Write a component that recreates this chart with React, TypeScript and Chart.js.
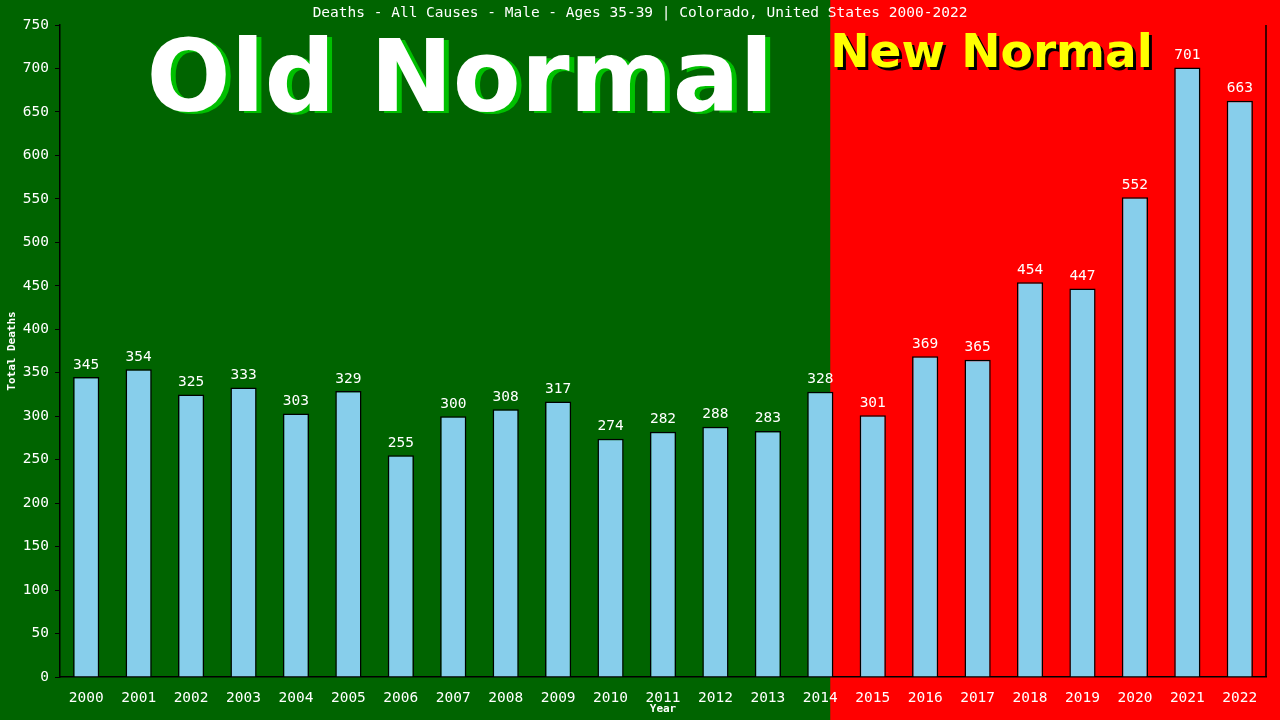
import { useEffect, useRef } from "react"
import { Chart, registerables } from "chart.js"

Chart.register(...registerables)

const years = [
  "2000", "2001", "2002", "2003", "2004", "2005", "2006", "2007", "2008", "2009", "2010", "2011",
  "2012", "2013", "2014", "2015", "2016", "2017", "2018", "2019", "2020", "2021", "2022",
]
const deaths = [345, 354, 325, 333, 303, 329, 255, 300, 308, 317, 274, 282, 288, 283, 328, 301, 369, 365, 454, 447, 552, 701, 663]
const titleText = "Deaths - All Causes - Male - Ages 35-39 | Colorado, United States 2000-2022"
const splitIndex = 14 // last "old normal" year

const MONO = "'DejaVu Sans Mono', monospace"
const SANS = "'DejaVu Sans', sans-serif"

// fondo verde/rojo, textos grandes y etiquetas de valores
const decorPlugin = {
  id: "decor",
  beforeDraw(chart: any) {
    const { ctx, width, height, scales } = chart
    const x = scales.x
    const step = x.getPixelForValue(splitIndex + 1) - x.getPixelForValue(splitIndex)
    const split = x.getPixelForValue(splitIndex) + step * 0.19
    ctx.save()
    ctx.fillStyle = "#006400"
    ctx.fillRect(0, 0, width, height)
    ctx.fillStyle = "#ff0000"
    ctx.fillRect(split, 0, width - split, height)

    // Old Normal
    ctx.font = `bold 99px ${SANS}`
    ctx.textAlign = "center"
    ctx.textBaseline = "alphabetic"
    ctx.fillStyle = "#00c000"
    ctx.fillText("Old Normal", 465, 113)
    ctx.fillStyle = "#ffffff"
    ctx.fillText("Old Normal", 460, 111)

    // New Normal
    ctx.font = `bold 47px ${SANS}`
    ctx.textAlign = "left"
    ctx.fillStyle = "#000000"
    ctx.fillText("New Normal", split + 3, 70)
    ctx.fillStyle = "#ffff00"
    ctx.fillText("New Normal", split, 67)

    // titulo
    ctx.font = `14.5px ${MONO}`
    ctx.textAlign = "center"
    ctx.textBaseline = "middle"
    ctx.fillStyle = "#ffffff"
    ctx.fillText(titleText, 640, 13)
    ctx.restore()
  },
  afterDatasetsDraw(chart: any) {
    const { ctx, chartArea } = chart
    const meta = chart.getDatasetMeta(0)
    ctx.save()
    ctx.font = `14.5px ${MONO}`
    ctx.textAlign = "center"
    ctx.textBaseline = "bottom"
    ctx.fillStyle = "#ffffff"
    meta.data.forEach((bar: any, i: number) => {
      ctx.fillText(String(deaths[i]), bar.x, bar.y - 5)
    })
    // borde derecho
    ctx.strokeStyle = "#000000"
    ctx.lineWidth = 1.5
    ctx.beginPath()
    ctx.moveTo(chartArea.right, chartArea.top)
    ctx.lineTo(chartArea.right, chartArea.bottom)
    ctx.stroke()
    ctx.restore()
  },
}

export default function App() {
  const chartRef = useRef<HTMLCanvasElement>(null)
  const chartInstance = useRef<Chart | null>(null)

  useEffect(() => {
    if (!chartRef.current) return
    if (chartInstance.current) chartInstance.current.destroy()

    const ctx = chartRef.current.getContext("2d")
    if (!ctx) return
    chartInstance.current = new Chart(ctx, {
      type: "bar",
      data: {
        labels: years,
        datasets: [
          {
            data: deaths,
            backgroundColor: "#87ceeb",
            borderColor: "#000000",
            borderWidth: 1.5,
            barPercentage: 0.5,
            categoryPercentage: 1,
          },
        ],
      },
      options: {
        animation: false,
        responsive: true,
        maintainAspectRatio: false,
        layout: { padding: { top: 25, right: 14, left: 0, bottom: 0 } },
        plugins: {
          legend: { display: false },
          title: { display: false },
          tooltip: { enabled: false },
        },
        scales: {
          x: {
            grid: { display: false },
            border: { display: true, color: "#000000", width: 1.5 },
            ticks: { color: "#ffffff", font: { family: MONO, size: 14.5 }, padding: 5, maxRotation: 0, autoSkip: false },
            title: {
              display: true,
              text: "Year",
              color: "#ffffff",
              font: { family: MONO, size: 11, weight: "bold" },
              padding: { top: 0, bottom: 4 },
            },
            afterFit: (scale: any) => {
              scale.height = 43
            },
          },
          y: {
            min: 0,
            max: 750,
            grid: { drawOnChartArea: false, drawTicks: true, tickLength: 5, color: "#000000" },
            border: { display: true, color: "#000000", width: 1.5 },
            ticks: { stepSize: 50, color: "#ffffff", font: { family: MONO, size: 14.5 }, padding: 6 },
            title: {
              display: true,
              text: "Total Deaths",
              color: "#ffffff",
              font: { family: MONO, size: 11, weight: "bold" },
              padding: 6,
            },
            afterFit: (scale: any) => {
              scale.width = 60
            },
          },
        },
      },
      plugins: [decorPlugin],
    })

    return () => {
      if (chartInstance.current) {
        chartInstance.current.destroy()
        chartInstance.current = null
      }
    }
  }, [])

  return (
    <div style={{ position: "fixed", left: 0, top: 0, width: 1280, height: 720 }}>
      <canvas ref={chartRef} />
    </div>
  )
}
